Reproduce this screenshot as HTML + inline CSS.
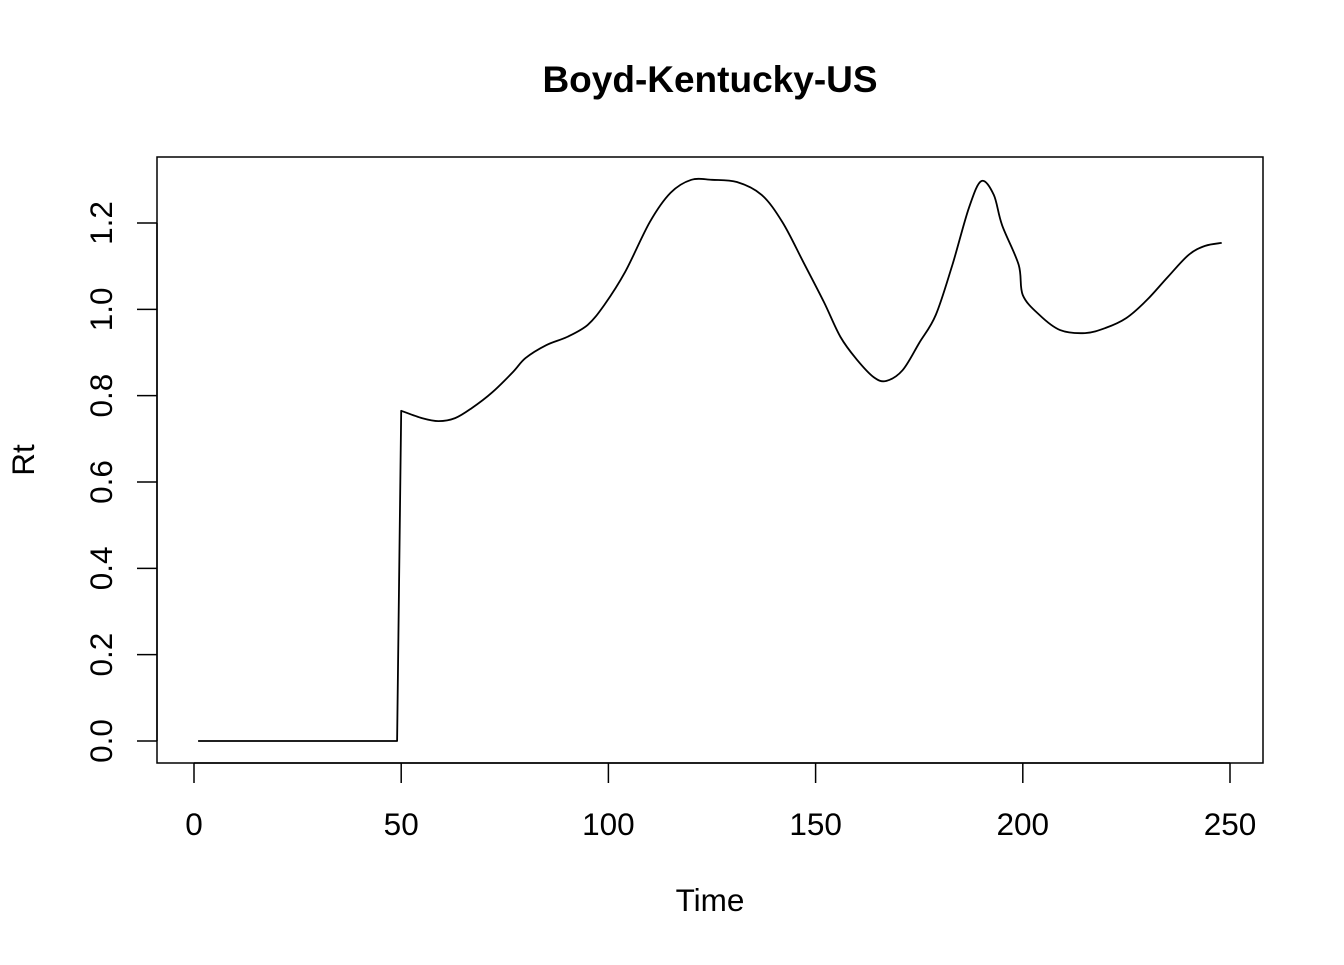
<!DOCTYPE html>
<html><head><meta charset="utf-8"><style>
body{margin:0;background:#fff}
svg text{font-family:"Liberation Sans",Arial,sans-serif;fill:#000}
</style></head><body>
<svg id="chart" width="1344" height="960" viewBox="0 0 1344 960">
<text x="710" y="92" text-anchor="middle" font-size="37" font-weight="bold">Boyd-Kentucky-US</text>
<rect x="157" y="157" width="1106" height="606" fill="none" stroke="#000" stroke-width="1.5"/>
<g id="xaxis"></g>
<g id="yaxis"></g>
<text x="710" y="911" text-anchor="middle" font-size="31.5">Time</text>
<text transform="translate(34,460) rotate(-90)" text-anchor="middle" font-size="31.5">Rt</text>
<path id="line" fill="none" stroke="#000" stroke-width="1.8" stroke-linejoin="round"/>
</svg>
<script>
const times=[1,49,50,55,59,63,67,72,77,80,85,90,95,99,104,110,115,120,125,131,137,142,147,152,156,160,164,167,171,175,179,183,187,190,193,195,199,200,204,209,215,220,225,230,235,240,244,248];
const rtValues=[0,0,0.765,0.748,0.741,0.748,0.771,0.808,0.855,0.887,0.917,0.936,0.964,1.01,1.086,1.202,1.27,1.30,1.30,1.295,1.265,1.202,1.11,1.017,0.936,0.883,0.843,0.834,0.859,0.922,0.987,1.103,1.235,1.297,1.265,1.195,1.103,1.033,0.987,0.952,0.945,0.957,0.98,1.022,1.075,1.126,1.147,1.154];
const xTicks=[0,50,100,150,200,250];
const yTicks=[0,0.2,0.4,0.6,0.8,1.0,1.2];
const xs=v=>194+v*(1230-194)/250;
const ys=v=>741-v*(741-223)/1.2;
const NS="http://www.w3.org/2000/svg";
const xa=document.getElementById('xaxis'),ya=document.getElementById('yaxis');
function mk(t,a,p){const e=document.createElementNS(NS,t);for(const k in a)e.setAttribute(k,a[k]);p.appendChild(e);return e;}
mk('line',{x1:xs(0),x2:xs(250),y1:763,y2:763,stroke:'#000','stroke-width':1.5},xa);
xTicks.forEach(v=>{
 const l=mk('line',{x1:xs(v),x2:xs(v),y1:763,y2:783,stroke:'#000','stroke-width':1.5},xa);
 
 
 const t=mk('text',{x:xs(v),y:835,'text-anchor':'middle','font-size':31.5},xa);t.textContent=v;
 
 
});
mk('line',{x1:157,x2:157,y1:ys(0),y2:ys(1.2),stroke:'#000','stroke-width':1.5},ya);
yTicks.forEach(v=>{
 const l=mk('line',{x1:137,x2:157,y1:ys(v),y2:ys(v),stroke:'#000','stroke-width':1.5},ya);
 
 
 const t=mk('text',{transform:`translate(112,${ys(v)}) rotate(-90)`,'text-anchor':'middle','font-size':31.5},ya);t.textContent=v.toFixed(1);
 
 
});
// smoothed path (Catmull-Rom), straight for the step segments
const P=times.map((t,i)=>[xs(t),ys(rtValues[i])]);
let d='M'+P[0][0].toFixed(1)+','+P[0][1].toFixed(1);
for(let i=0;i<P.length-1;i++){
 if(i<2){d+='L'+P[i+1][0].toFixed(1)+','+P[i+1][1].toFixed(1);continue;}
 const p0=P[Math.max(i-1,2)],p1=P[i],p2=P[i+1],p3=P[Math.min(i+2,P.length-1)];
 const c1=[p1[0]+(p2[0]-p0[0])/6,p1[1]+(p2[1]-p0[1])/6];
 const c2=[p2[0]-(p3[0]-p1[0])/6,p2[1]-(p3[1]-p1[1])/6];
 d+='C'+c1.map(n=>n.toFixed(1)).join(',')+' '+c2.map(n=>n.toFixed(1)).join(',')+' '+p2.map(n=>n.toFixed(1)).join(',');
}
document.getElementById('line').setAttribute('d',d);
</script>
</body></html>
